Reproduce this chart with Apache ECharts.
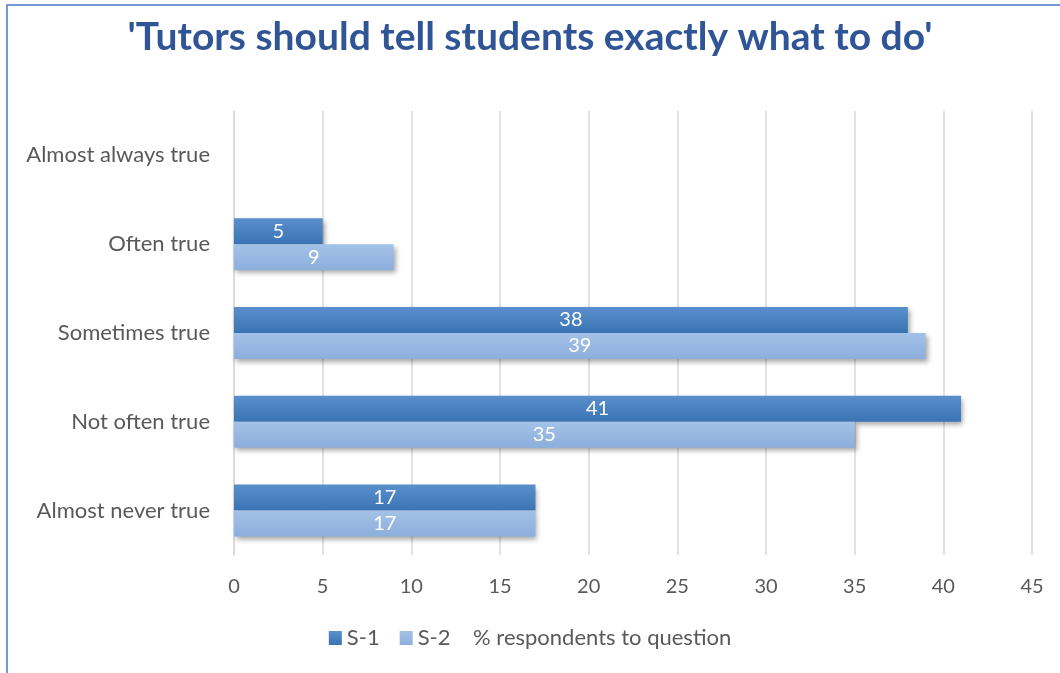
<!DOCTYPE html>
<html>
<head>
<meta charset="utf-8">
<script src="https://cdn.jsdelivr.net/npm/echarts@6/dist/echarts.min.js"></script>
<style>
  html, body { margin: 0; padding: 0; background: #fff; }
  #chart { width: 1060px; height: 673px; }
</style>
</head>
<body>
<div id="chart"></div>
<script>
// Response categories, bottom to top as they sit on the axis
const categories = ['Almost never true', 'Not often true', 'Sometimes true', 'Often true', 'Almost always true'];
// Percent of respondents per survey
const s1Values = [17, 41, 38, 5, null];
const s2Values = [17, 35, 39, 9, null];
const xTicks = { min: 0, max: 45, interval: 5 };

const font = 'Lato, "Open Sans", sans-serif';

const chart = echarts.init(document.getElementById('chart'));

function grad(top, bottom) {
  return new echarts.graphic.LinearGradient(0, 0, 0, 1, [
    { offset: 0, color: top },
    { offset: 1, color: bottom }
  ]);
}

const barLabel = {
  show: true,
  position: 'inside',
  color: '#ffffff',
  fontSize: 20,
  fontFamily: font
};

const shadow = {
  shadowColor: 'rgba(0,0,0,0.35)',
  shadowBlur: 5,
  shadowOffsetX: 2,
  shadowOffsetY: 3
};

chart.setOption({
  animation: false,
  title: {
    text: "'Tutors should tell students exactly what to do'",
    left: 'center',
    top: 13,
    textStyle: {
      color: '#2f5597',
      fontSize: 39,
      fontWeight: 'bold',
      fontFamily: font
    }
  },
  graphic: [{
    type: 'rect',
    shape: { x: 7, y: 5, width: 1070, height: 700 },
    style: { fill: 'none', stroke: '#4a78c8', lineWidth: 1.5 },
    z: 100
  }],
  legend: {
    bottom: 19,
    left: 'center',
    itemWidth: 13,
    itemHeight: 14,
    itemGap: 20,
    itemStyle: { borderWidth: 0 },
    icon: 'rect',
    data: ['S-1', 'S-2'],
    formatter: function (name) {
      return name === 'S-2' ? 'S-2    % respondents to question' : name;
    },
    textStyle: { color: '#595959', fontSize: 22, fontFamily: font }
  },
  grid: { left: 234, right: 28, top: 111, bottom: 118 },
  xAxis: {
    type: 'value',
    min: xTicks.min,
    max: xTicks.max,
    interval: xTicks.interval,
    axisLine: { show: false },
    axisTick: { show: false },
    axisLabel: { color: '#595959', fontSize: 20, fontFamily: font, margin: 22 },
    splitLine: { lineStyle: { color: '#d9d9d9', width: 1.5 } }
  },
  yAxis: {
    type: 'category',
    data: categories,
    axisLine: { show: true, lineStyle: { color: '#d9d9d9', width: 1.5 } },
    axisTick: { show: false },
    axisLabel: { color: '#595959', fontSize: 22, fontFamily: font, margin: 24 }
  },
  series: [
    {
      name: 'S-1',
      type: 'bar',
      data: s1Values,
      barWidth: 26,
      barGap: '0%',
      itemStyle: Object.assign({ color: grad('#5a8fcc', '#3a74b4') }, shadow),
      label: barLabel
    },
    {
      name: 'S-2',
      type: 'bar',
      data: s2Values,
      barWidth: 26,
      barGap: '0%',
      itemStyle: Object.assign({ color: grad('#a3c2e8', '#8caedb') }, shadow),
      label: barLabel
    }
  ]
});
</script>
</body>
</html>
